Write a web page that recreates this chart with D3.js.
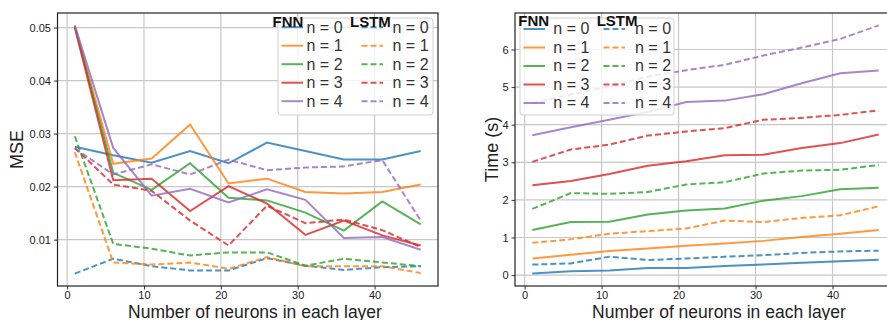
<!DOCTYPE html>
<html><head><meta charset="utf-8">
<script src="https://cdn.jsdelivr.net/npm/d3@7"></script>
<style>
html,body{margin:0;padding:0;background:#fff;}
svg{display:block;font-family:"Liberation Sans",Arial,sans-serif;}
</style></head>
<body><svg id="c" width="887" height="320"></svg>
<script>
const neurons = [1,6,11,16,21,26,31,36,41,46];
const seriesLabels = ["n = 0","n = 1","n = 2","n = 3","n = 4"];
const colors = ["#1f77b4","#ff7f0e","#2ca02c","#d62728","#9467bd"];
const xTicks = [0,10,20,30,40];
const mseTicks = [0.01,0.02,0.03,0.04,0.05];
const mseTickLabels = ["0.01","0.02","0.03","0.04","0.05"];
const timeTicks = [0,1,2,3,4,5,6];
const mseFNN = [
  [0.0275,0.0259,0.0245,0.0267,0.0244,0.0283,0.0267,0.0251,0.0251,0.0267],
  [0.0503,0.0243,0.0253,0.0317,0.0206,0.0215,0.0190,0.0187,0.0190,0.0204],
  [0.0502,0.0226,0.0194,0.0244,0.0179,0.0174,0.0151,0.0117,0.0172,0.0129],
  [0.0500,0.0212,0.0215,0.0154,0.0201,0.0168,0.0109,0.0136,0.0108,0.0089],
  [0.0504,0.0273,0.0183,0.0196,0.0170,0.0195,0.0175,0.0103,0.0105,0.0081]
];
const mseLSTM = [
  [0.0036,0.0064,0.0050,0.0042,0.0042,0.0065,0.0051,0.0043,0.0048,0.0050],
  [0.0265,0.0057,0.0053,0.0057,0.0045,0.0067,0.0050,0.0050,0.0050,0.0037],
  [0.0295,0.0092,0.0083,0.0070,0.0076,0.0076,0.0051,0.0064,0.0057,0.0050],
  [0.0273,0.0204,0.0192,0.0136,0.0089,0.0164,0.0131,0.0138,0.0118,0.0086],
  [0.0272,0.0223,0.0242,0.0223,0.0251,0.0231,0.0236,0.0238,0.0250,0.0136]
];
const timeFNN = [
  [0.04,0.10,0.12,0.19,0.19,0.24,0.28,0.33,0.37,0.41],
  [0.44,0.54,0.64,0.71,0.78,0.84,0.91,1.01,1.10,1.20],
  [1.20,1.41,1.42,1.61,1.72,1.77,1.98,2.10,2.28,2.32],
  [2.39,2.50,2.69,2.91,3.03,3.19,3.20,3.38,3.51,3.74],
  [3.72,3.93,4.13,4.34,4.60,4.64,4.81,5.10,5.37,5.44]
];
const timeLSTM = [
  [0.28,0.31,0.49,0.40,0.44,0.49,0.53,0.59,0.63,0.65],
  [0.86,0.95,1.10,1.17,1.24,1.45,1.41,1.52,1.59,1.83],
  [1.76,2.18,2.16,2.21,2.41,2.47,2.70,2.78,2.80,2.93],
  [3.01,3.34,3.47,3.71,3.82,3.91,4.13,4.18,4.26,4.38],
  [4.57,4.80,5.02,5.28,5.45,5.59,5.84,6.05,6.28,6.64]
];

const svg = d3.select("#c");

function padded(ext){ const d=(ext[1]-ext[0])*0.05; return [ext[0]-d, ext[1]+d]; }

function panel(opt){
  const {left,right,top,bottom,fnn,lstm,yTicks,yFmt,yLabel,yLabelX,xLabelCx,leg} = opt;
  const g = svg.append("g");
  const x = d3.scaleLinear().domain(padded(d3.extent(neurons))).range([left,right]);
  const all = fnn.flat().concat(lstm.flat());
  const y = d3.scaleLinear().domain(padded(d3.extent(all))).range([bottom,top]);
  // grid
  g.append("g").selectAll("line").data(xTicks).join("line")
    .attr("x1",d=>x(d)).attr("x2",d=>x(d)).attr("y1",top).attr("y2",bottom)
    .attr("stroke","#c8c8c8").attr("stroke-width",1.2);
  g.append("g").selectAll("line").data(yTicks).join("line")
    .attr("x1",left).attr("x2",right).attr("y1",d=>y(d)).attr("y2",d=>y(d))
    .attr("stroke","#c8c8c8").attr("stroke-width",1.2);
  // axes
  const xa = g.append("g").attr("transform",`translate(0,${bottom})`)
    .call(d3.axisBottom(x).tickValues(xTicks).tickSize(3.5).tickPadding(2).tickFormat(d3.format("d")));
  const ya = g.append("g").attr("transform",`translate(${left},0)`)
    .call(d3.axisLeft(y).tickValues(yTicks).tickSize(3.5).tickPadding(3).tickFormat(yFmt));
  [xa,ya].forEach(a=>{
    a.select(".domain").remove();
    a.selectAll("line").attr("stroke","#333");
    a.selectAll("text").attr("fill","#222").style("font-size","11px").style("font-family",'"Liberation Sans",Arial,sans-serif');
  });
  // lines
  const line = d3.line().x((d,i)=>x(neurons[i])).y(d=>y(d));
  const clipId = "clip"+Math.round(left);
  g.append("clipPath").attr("id",clipId).append("rect").attr("x",left).attr("y",top).attr("width",right-left).attr("height",bottom-top);
  const lg = g.append("g").attr("clip-path",`url(#${clipId})`);
  fnn.forEach((s,i)=>{
    lg.append("path").attr("d",line(s)).attr("fill","none").attr("stroke",colors[i])
      .attr("stroke-opacity",0.8).attr("stroke-width",2);
  });
  lstm.forEach((s,i)=>{
    lg.append("path").attr("d",line(s)).attr("fill","none").attr("stroke",colors[i])
      .attr("stroke-opacity",0.8).attr("stroke-width",2).attr("stroke-dasharray","6,3");
  });
  // frame
  g.append("rect").attr("x",left).attr("y",top).attr("width",right-left).attr("height",bottom-top)
    .attr("fill","none").attr("stroke","#222").attr("stroke-width",1.2);
  // labels
  g.append("text").attr("x",xLabelCx).attr("y",317.5).attr("text-anchor","middle")
    .style("font-size","17.5px").attr("fill","#222").text("Number of neurons in each layer");
  g.append("text").attr("transform",`translate(${yLabelX},${(top+bottom)/2}) rotate(-90)`)
    .attr("text-anchor","middle").style("font-size","18px").attr("fill","#222").text(yLabel);
  // legend
  const L = g.append("g");
  L.append("rect").attr("x",leg.x).attr("y",leg.y).attr("width",leg.w).attr("height",leg.h)
    .attr("rx",3).attr("fill","#fff").attr("fill-opacity",0.8).attr("stroke","#d0d0d0");
  seriesLabels.forEach((lab,i)=>{
    const by = leg.base + i*18.5;
    L.append("line").attr("x1",leg.h1).attr("x2",leg.h1+21.5).attr("y1",by-5.3).attr("y2",by-5.3)
      .attr("stroke",colors[i]).attr("stroke-opacity",0.8).attr("stroke-width",2);
    L.append("text").attr("x",leg.t1).attr("y",by).style("font-size","16px").attr("fill","#333").text(lab);
    L.append("line").attr("x1",leg.h2).attr("x2",leg.h2+21.5).attr("y1",by-5.3).attr("y2",by-5.3)
      .attr("stroke",colors[i]).attr("stroke-opacity",0.8).attr("stroke-width",2).attr("stroke-dasharray","6,3");
    L.append("text").attr("x",leg.t2).attr("y",by).style("font-size","16px").attr("fill","#333").text(lab);
  });
  L.append("text").attr("x",leg.f).attr("y",leg.tb).style("font-size","15px").style("font-weight","bold").attr("fill","#111").text("FNN");
  L.append("text").attr("x",leg.l).attr("y",leg.tb).style("font-size","15px").style("font-weight","bold").attr("fill","#111").text("LSTM");
}

panel({left:57.5,right:438,top:13,bottom:286,fnn:mseFNN,lstm:mseLSTM,yTicks:mseTicks,
  yFmt:(d,i)=>mseTickLabels[i],yLabel:"MSE",yLabelX:23,xLabelCx:255,
  leg:{x:278,y:18,w:155,h:97,h1:281.5,t1:306.5,h2:361.5,t2:392.5,base:32.5,f:272.5,l:350,tb:26.7}});
panel({left:515,right:896,top:13,bottom:286,fnn:timeFNN,lstm:timeLSTM,yTicks:timeTicks,
  yFmt:d3.format("d"),yLabel:"Time (s)",yLabelX:498,xLabelCx:719,
  leg:{x:520,y:18,w:154,h:97,h1:523.5,t1:553.3,h2:603.5,t2:635,base:34.3,f:518.3,l:596.7,tb:26.3}});
</script></body></html>
